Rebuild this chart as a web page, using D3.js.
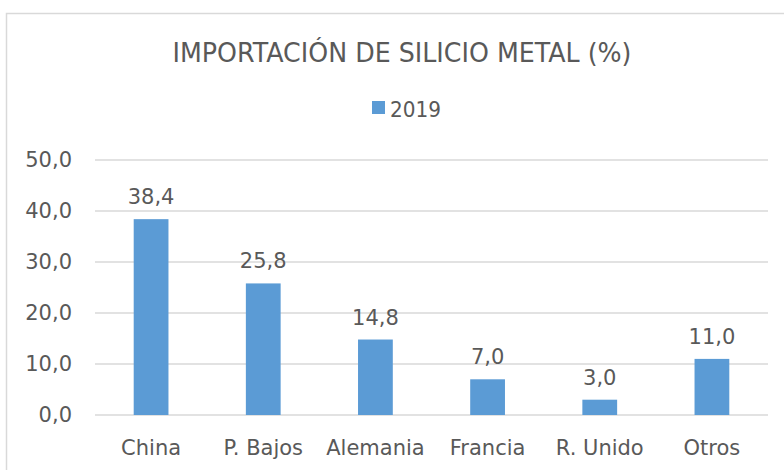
<!DOCTYPE html>
<html>
<head>
<meta charset="utf-8">
<script src="https://cdn.jsdelivr.net/npm/d3@7"></script>
<style>
  body { margin: 0; background: #fff; }
  text { font-family: "DejaVu Sans", Verdana, sans-serif; fill: #595959; }
</style>
</head>
<body>
<div id="chart"></div>
<script>
// data
var paises = ["China", "P. Bajos", "Alemania", "Francia", "R. Unido", "Otros"];
var valores2019 = [38.4, 25.8, 14.8, 7.0, 3.0, 11.0];
var ticksY = [0, 10, 20, 30, 40, 50];
var serie = "2019";
var titulo = "IMPORTACIÓN DE SILICIO METAL (%)";

var width = 784, height = 470;
var fmt = function(v) { return v.toFixed(1).replace(".", ","); };

//Make an SVG Container
var svg = d3.select("#chart").append("svg")
  .attr("width", width)
  .attr("height", height);

// chart frame
svg.append("rect")
  .attr("x", 6.5).attr("y", 13.5)
  .attr("width", 790).attr("height", 470)
  .attr("fill", "#fff")
  .attr("stroke", "#d9d9d9")
  .attr("stroke-width", 1.5);

//Title
svg.append("text")
  .attr("x", 402).attr("y", 62)
  .attr("text-anchor", "middle")
  .attr("textLength", 459)
  .attr("lengthAdjust", "spacingAndGlyphs")
  .style("font-size", "27px")
  .text(titulo);

//Legend
svg.append("rect")
  .attr("x", 372).attr("y", 101)
  .attr("width", 13).attr("height", 13)
  .attr("fill", "#5b9bd5");
svg.append("text")
  .attr("x", 390).attr("y", 117)
  .attr("textLength", 51)
  .attr("lengthAdjust", "spacingAndGlyphs")
  .style("font-size", "21px")
  .text(serie);

//Scales
var x = d3.scaleBand().domain(paises).range([95, 768]).paddingInner(0.69).paddingOuter(0.345);
var y = d3.scaleLinear().domain([0, 50]).range([415, 160]);

//Gridlines
svg.append("g").selectAll("line")
  .data(ticksY).enter().append("line")
  .attr("x1", 95).attr("x2", 768)
  .attr("y1", function(d) { return y(d); })
  .attr("y2", function(d) { return y(d); })
  .attr("stroke", "#d9d9d9")
  .attr("stroke-width", 1.5);

//Y axis labels
var yAxis = svg.append("g")
  .attr("transform", "translate(95,0)")
  .call(d3.axisLeft(y).tickValues(ticksY).tickFormat(fmt).tickSize(0).tickPadding(23));
yAxis.select(".domain").remove();
yAxis.selectAll("text").style("font-size", "21px").attr("fill", "#595959");

//Bars
svg.append("g").selectAll("rect")
  .data(valores2019).enter().append("rect")
  .attr("x", function(d, i) { return x(paises[i]); })
  .attr("width", x.bandwidth())
  .attr("y", function(d) { return y(d); })
  .attr("height", function(d) { return y(0) - y(d); })
  .attr("fill", "#5b9bd5");

//Value labels
svg.append("g").selectAll("text")
  .data(valores2019).enter().append("text")
  .attr("x", function(d, i) { return x(paises[i]) + x.bandwidth() / 2; })
  .attr("y", function(d) { return y(d) - 15; })
  .attr("text-anchor", "middle")
  .style("font-size", "21px")
  .text(fmt);

//X axis labels
var xAxis = svg.append("g")
  .attr("transform", "translate(0,415)")
  .call(d3.axisBottom(x).tickSize(0).tickPadding(25));
xAxis.select(".domain").remove();
xAxis.selectAll("text").style("font-size", "21px").attr("fill", "#595959");
</script>
</body>
</html>
